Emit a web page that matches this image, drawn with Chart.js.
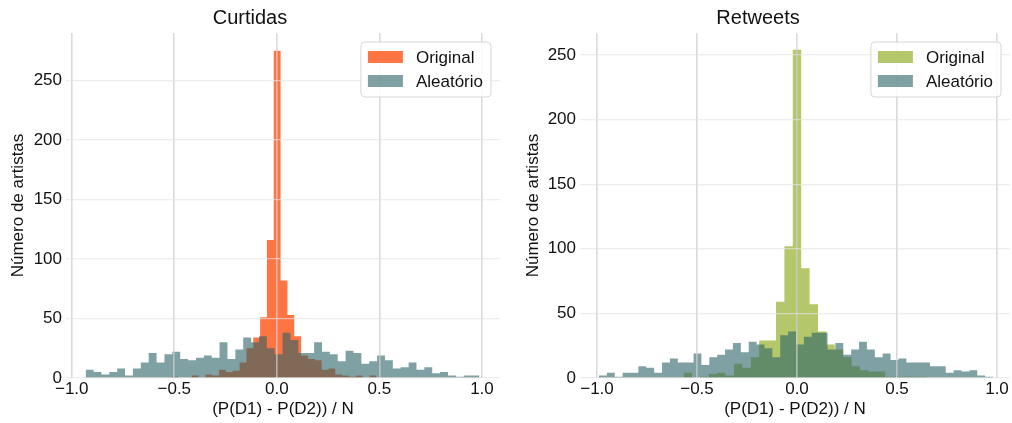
<!DOCTYPE html>
<html>
<head>
<meta charset="utf-8">
<script src="https://cdn.jsdelivr.net/npm/chart.js@4.4.1/dist/chart.umd.min.js"></script>
<style>
    html, body { margin: 0; padding: 0; background: #fff; }
    #wrap { position: relative; width: 1012px; height: 423px; }
    canvas { position: absolute; top: 0; }
    #curtidasChart { left: 0; }
    #retweetsChart { left: 506px; }
</style>
</head>
<body>
<div id="wrap">
    <canvas id="curtidasChart" width="506" height="423"></canvas>
    <canvas id="retweetsChart" width="506" height="423"></canvas>
</div>
<script>
// Histogram data (counts per bin, first bin edge and bin width)
const curtidasOrigStart = -0.5145;
const curtidasOrigWidth = 0.0333;
const curtidasOriginal = [1, 0, 0, 2, 0, 3, 2, 7, 5, 6, 13, 25, 34, 51, 116, 275, 82, 53, 35, 19, 16, 15, 7, 8, 3, 2, 1, 2, 0, 2];

const curtidasAleatStart = -0.932;
const curtidasAleatWidth = 0.0384;
const curtidasAleatorio = [7, 5, 3, 5, 8, 2, 8, 13, 21, 13, 20, 22, 16, 15, 17, 19, 17, 30, 16, 24,
    34, 30, 35, 25, 20, 38, 32, 21, 21, 30, 22, 20, 14, 23, 21, 12, 14, 19, 15, 8,
    9, 13, 7, 9, 4, 5, 2, 1, 2, 2];

const retweetsOrigStart = -0.567;
const retweetsOrigWidth = 0.042;
const retweetsOriginal = [4, 0, 1, 3, 4, 2, 11, 8, 16, 29, 29, 59, 102, 254, 85, 57, 36, 26, 22, 16, 9, 6, 5, 5, 1, 1, 1, 1, 1];

const retweetsAleatStart = -0.99;
const retweetsAleatWidth = 0.0394;
const retweetsAleatorio = [2, 4, 1, 4, 4, 9, 8, 4, 12, 15, 12, 12, 19, 10, 16, 18, 22, 27, 20, 28,
    26, 23, 16, 33, 36, 26, 32, 35, 35, 22, 27, 18, 22, 28, 22, 16, 19, 14, 15, 12,
    12, 12, 9, 9, 4, 6, 5, 6, 2, 1];

const xTicks = [-1, -0.5, 0, 0.5, 1];
const yTicks = [0, 50, 100, 150, 200, 250];

const FONT = '"Liberation Sans", Arial, sans-serif';
const TEXT = "#111";
const aleatColor = "rgba(43, 98, 102, 0.6)";

// bin edges -> stepped points
function histPoints(start, width, counts) {
    const pts = counts.map((c, i) => ({ x: start + i * width, y: c }));
    pts.push({ x: start + counts.length * width, y: 0 });
    return pts;
}

// legend in a rounded box, top right of the plot
const boxLegend = {
    id: "boxLegend",
    afterDraw(chart) {
        const { ctx, chartArea } = chart;
        const items = chart.data.datasets;
        ctx.save();
        ctx.font = "17px " + FONT;
        const textW = Math.max(...items.map((d) => ctx.measureText(d.label).width));
        const w = 55 + textW + 8;
        const h = 55;
        const x = chartArea.right - 9 - w;
        const y = chartArea.top + 9;
        ctx.beginPath();
        ctx.roundRect(x, y, w, h, 4);
        ctx.fillStyle = "rgba(255,255,255,0.85)";
        ctx.fill();
        ctx.strokeStyle = "#d6d6d6";
        ctx.lineWidth = 1;
        ctx.stroke();
        items.forEach((d, i) => {
            const cy = y + 15 + i * 24;
            ctx.fillStyle = d.backgroundColor;
            ctx.fillRect(x + 7, cy - 6, 35, 12);
            ctx.fillStyle = TEXT;
            ctx.textBaseline = "middle";
            ctx.fillText(d.label, x + 55, cy + 1);
        });
        ctx.restore();
    },
};

function makeChart(id, title, orig, origColor, aleat, xMin, xMax, yMax, yWidth, yTitlePad, padRight) {
    return new Chart(document.getElementById(id), {
        type: "line",
        data: {
            datasets: [
                {
                    label: "Original",
                    data: orig,
                    stepped: true,
                    fill: "origin",
                    backgroundColor: origColor,
                    borderColor: "rgba(0,0,0,0)",
                    borderWidth: 0,
                    pointRadius: 0,
                    order: 1,
                },
                {
                    label: "Aleatório",
                    data: aleat,
                    stepped: true,
                    fill: "origin",
                    backgroundColor: aleatColor,
                    borderColor: "rgba(0,0,0,0)",
                    borderWidth: 0,
                    pointRadius: 0,
                    order: 0,
                },
            ],
        },
        options: {
            responsive: false,
            animation: false,
            layout: { padding: { left: 0, right: padRight, top: 0, bottom: 0 } },
            plugins: {
                legend: { display: false },
                tooltip: { enabled: false },
                title: {
                    display: true,
                    text: title,
                    color: TEXT,
                    font: { family: FONT, size: 20, weight: "normal" },
                    padding: { top: 6, bottom: 3 },
                },
            },
            scales: {
                x: {
                    type: "linear",
                    min: xMin,
                    max: xMax,
                    afterBuildTicks: (s) => { s.ticks = xTicks.map((v) => ({ value: v })); },
                    afterFit: (s) => { s.height = 45; },
                    ticks: {
                        color: TEXT,
                        font: { family: FONT, size: 17 },
                        padding: 1,
                        maxRotation: 0,
                        autoSkip: false,
                        callback: (v) => Number(v).toFixed(1).replace("-", "\u2212"),
                    },
                    grid: { z: 1, color: "rgba(205,205,205,0.75)", lineWidth: 1.6, drawTicks: false },
                    border: { display: false },
                    title: {
                        display: true,
                        text: "(P(D1) - P(D2)) / N",
                        color: TEXT,
                        font: { family: FONT, size: 17 },
                        padding: { top: 0, bottom: 3 },
                    },
                },
                y: {
                    min: 0,
                    max: yMax,
                    afterBuildTicks: (s) => { s.ticks = yTicks.map((v) => ({ value: v })); },
                    afterFit: (s) => { s.width = yWidth; },
                    ticks: { color: TEXT, font: { family: FONT, size: 17 }, padding: 4 },
                    grid: { z: 1, color: "rgba(228,228,228,0.65)", lineWidth: 1.2, drawTicks: false },
                    border: { display: false },
                    title: {
                        display: true,
                        text: "Número de artistas",
                        color: TEXT,
                        font: { family: FONT, size: 17 },
                        padding: { top: yTitlePad, bottom: 0 },
                    },
                },
            },
        },
        plugins: [boxLegend],
    });
}

makeChart(
    "curtidasChart", "Curtidas",
    histPoints(curtidasOrigStart, curtidasOrigWidth, curtidasOriginal), "#ff7443",
    histPoints(curtidasAleatStart, curtidasAleatWidth, curtidasAleatorio),
    -1.028, 1.088, 290, 66, 8, 6
);

makeChart(
    "retweetsChart", "Retweets",
    histPoints(retweetsOrigStart, retweetsOrigWidth, retweetsOriginal), "#b5c76b",
    histPoints(retweetsAleatStart, retweetsAleatWidth, retweetsAleatorio),
    -1.085, 1.065, 267, 74, 17, 2
);
</script>
</body>
</html>
